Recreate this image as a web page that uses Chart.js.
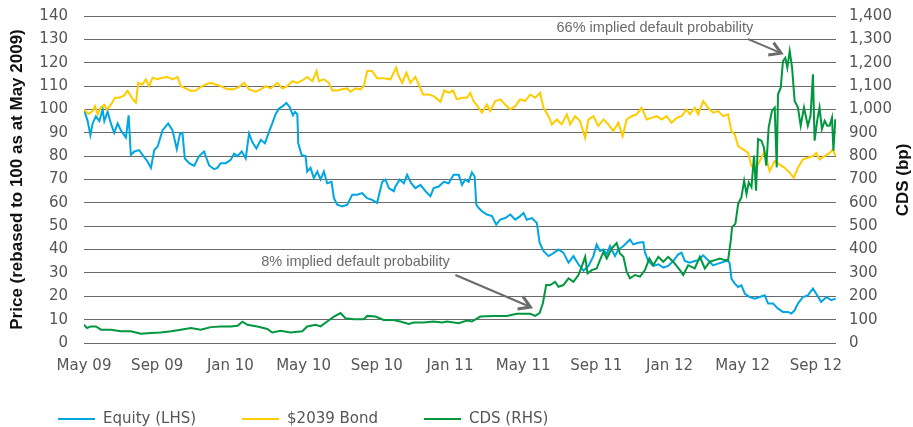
<!DOCTYPE html>
<html>
<head>
<meta charset="utf-8">
<script src="https://cdn.jsdelivr.net/npm/chart.js@4.4.1/dist/chart.umd.min.js"></script>
<style>
  html, body { margin: 0; padding: 0; background: #fff; }
  #wrap { width: 913px; height: 427px; }
</style>
</head>
<body>
<div id="wrap"><canvas id="chart" width="913" height="427"></canvas></div>
<script>
// x values are months since May 2009
const xTickLabels = ['May 09', 'Sep 09', 'Jan 10', 'May 10', 'Sep 10', 'Jan 11',
                     'May 11', 'Sep 11', 'Jan 12', 'May 12', 'Sep 12'];

const equityMonths = [0, 0.2, 0.35, 0.47, 0.65, 0.84, 1.02, 1.11, 1.29, 1.47, 1.65, 1.84, 2.02, 2.29, 2.44, 2.56,
  2.75, 3.02, 3.2, 3.47, 3.66, 3.84, 4.02, 4.29, 4.6, 4.84, 5.07, 5.25, 5.38, 5.51, 5.75, 6.02, 6.29, 6.56,
  6.84, 7.11, 7.29, 7.47, 7.75, 8.02, 8.2, 8.39, 8.62, 8.84, 9.02, 9.2, 9.42, 9.66, 9.89, 10.11, 10.29, 10.47,
  10.66, 10.84, 11.06, 11.24, 11.42, 11.53, 11.66, 11.71, 11.89, 12.11, 12.2, 12.38, 12.56, 12.75, 12.93, 13.11,
  13.29, 13.53, 13.66, 13.84, 14.11, 14.39, 14.66, 14.93, 15.2, 15.47, 15.75, 16.02, 16.3, 16.48, 16.66, 16.93,
  17.02, 17.26, 17.48, 17.66, 17.88, 18.11, 18.39, 18.66, 18.93, 19.11, 19.39, 19.66, 19.93, 20.2, 20.48, 20.66,
  20.84, 21.02, 21.2, 21.35, 21.44, 21.57, 21.75, 22.02, 22.3, 22.53, 22.75, 23.02, 23.3, 23.57, 23.84, 24.02,
  24.2, 24.48, 24.75, 24.9, 25.11, 25.39, 25.57, 25.93, 26.2, 26.48, 26.75, 27.02, 27.3, 27.57, 27.84, 28.02,
  28.2, 28.39, 28.57, 28.75, 29.02, 29.2, 29.48, 29.66, 29.84, 30.02, 30.29, 30.57, 30.66, 30.84, 31.11, 31.39,
  31.66, 31.93, 32.2, 32.48, 32.66, 32.84, 33.11, 33.38, 33.57, 33.84, 34.11, 34.38, 34.66, 34.93, 35.2, 35.29,
  35.39, 35.57, 35.75, 35.93, 36.12, 36.39, 36.66, 36.93, 37.2, 37.39, 37.66, 37.93, 38.2, 38.48, 38.66, 38.84,
  39.02, 39.29, 39.56, 39.84, 40.02, 40.29, 40.57, 40.84, 41.08];
const equityValues = [100, 95, 89, 94, 97, 95, 100, 95, 99, 94, 90, 94, 91, 88, 97.5, 80.5,
  82, 82.6, 80.5, 77.7, 75, 82.6, 84, 91, 94, 91, 83, 89.7, 90, 79, 77, 75.8, 80, 82,
  76, 74.4, 75, 77, 77, 78.4, 81, 80, 82, 79, 89.7, 86, 83.3, 87, 85.5, 90.4, 94, 98,
  100.4, 101.3, 102.8, 101, 97.5, 99, 98, 85.5, 80.5, 80, 73.4, 75, 70.6, 73.4, 70, 73.4,
  68.4, 69, 62, 59.2, 58.5, 59.2, 63.5, 63.5, 64.2, 62, 61.3, 60, 69, 70, 66.3, 65,
  67, 70, 68.4, 72, 68.4, 66.3, 67.7, 65, 62.8, 66.3, 67, 69, 68.4, 72, 72, 67.7,
  70, 69, 73, 71.3, 59.2, 57.8, 56.4, 55, 54.3, 50.7, 52.8, 53.5, 55, 52.8, 54.3, 55.7,
  52.8, 53.5, 51.4, 42.9, 39.4, 37.2, 38, 40, 38.7, 34.4, 37.2, 33.7, 30.9, 33, 37.2, 42.2,
  39.4, 40, 38, 41.5, 37.2, 40, 41.5, 42.9, 44.3, 42.2, 42.9, 43.2, 38.7, 35.1, 33, 33.7,
  32.3, 33, 35.1, 38, 38.7, 35.1, 34.4, 35.1, 35.4, 37.5, 35.4, 33.2, 34, 34.7, 35.4, 34,
  27.5, 25.4, 24, 24.7, 21.1, 19.7, 19, 19.7, 20.4, 16.9, 16.9, 14.7, 13.3, 13.3, 12.6, 14,
  16.9, 19.7, 20.4, 23.3, 21.1, 17.6, 19.7, 18.3, 19];

const bondMonths = [0, 0.24, 0.47, 0.6, 0.75, 0.93, 1.11, 1.25, 1.47, 1.69, 1.93, 2.2, 2.38, 2.56, 2.74, 2.84,
  2.96, 3.2, 3.38, 3.56, 3.75, 4.02, 4.29, 4.57, 4.84, 5.11, 5.29, 5.56, 5.84, 6.11, 6.38, 6.66, 6.93, 7.2,
  7.47, 7.84, 8.2, 8.47, 8.75, 9.02, 9.38, 9.66, 9.93, 10.2, 10.57, 10.84, 11.11, 11.39, 11.66, 11.93, 12.2,
  12.48, 12.71, 12.84, 13.11, 13.38, 13.57, 13.84, 14.11, 14.39, 14.57, 14.84, 15.11, 15.29, 15.48, 15.75,
  16.02, 16.38, 16.75, 17.06, 17.2, 17.39, 17.62, 17.84, 18.11, 18.29, 18.53, 18.84, 19.11, 19.48, 19.69,
  19.93, 20.17, 20.38, 20.66, 20.93, 21.11, 21.29, 21.57, 21.75, 22.02, 22.2, 22.48, 22.75, 23.02, 23.3,
  23.57, 23.84, 24.11, 24.39, 24.66, 24.93, 25.11, 25.39, 25.57, 25.84, 26.11, 26.39, 26.57, 26.84, 27.11,
  27.39, 27.57, 27.84, 28.11, 28.39, 28.66, 28.93, 29.2, 29.44, 29.66, 29.93, 30.2, 30.48, 30.75, 31.02,
  31.3, 31.57, 31.84, 32.11, 32.39, 32.66, 32.93, 33.11, 33.38, 33.57, 33.84, 34.11, 34.38, 34.66, 34.93,
  35.2, 35.39, 35.57, 35.75, 36.02, 36.3, 36.48, 36.75, 37.02, 37.2, 37.47, 37.75, 38.02, 38.29, 38.57,
  38.79, 39.02, 39.29, 39.56, 39.84, 40.02, 40.2, 40.48, 40.75, 40.93, 41.08];
const bondValues = [100, 98.1, 99.3, 101.4, 97.9, 101, 101.9, 100, 102, 105, 105, 106, 108, 105.7, 103.6, 102.9,
  111.4, 110.7, 112.9, 110, 113.6, 112.9, 113.6, 113.9, 112.9, 113.9, 110, 109, 107.9, 108.1, 109.6, 110.7, 111.4, 110.7,
  110, 108.6, 108.6, 109.6, 111.4, 108.6, 107.6, 108.6, 110, 109, 111.4, 109, 110, 112.1, 111.4, 112.4, 113.9,
  112.1, 116.4, 112.1, 112.9, 111.4, 108.1, 108.1, 108.6, 109, 107.6, 109, 108.6, 110, 116.4, 116.4,
  113.3, 113.3, 112.9, 117.9, 114.3, 111.4, 115.7, 111.4, 113.9, 110.7, 106.4, 106.4, 105.7, 103.3, 108.1,
  107.1, 108.1, 104.3, 105, 105, 107.1, 103.6, 100.7, 98.6, 102.1, 99.3, 103.6, 104.3, 102.1, 100,
  101.4, 104.3, 103.6, 106.4, 105, 107.1, 100.7, 97.1, 93.6, 95.7, 93.6, 97.9, 93.6, 97.1, 95,
  87.9, 95.7, 97.1, 92.9, 95.7, 93.6, 90.7, 94.3, 88.6, 95.7, 97.1, 97.9, 100.7, 95.7, 96.4,
  97.1, 95.7, 97.1, 94.3, 96.4, 97.1, 100, 97.9, 100.7, 97.9, 103.6, 100.7, 98.6, 99.3, 97.1,
  97.9, 90.7, 89.3, 84.3, 82.9, 81.4, 75.7, 75, 79.3, 82.1, 73.6, 77.9, 76.4, 75, 72.9,
  70.7, 75, 78.6, 79.3, 80, 81.4, 78.6, 80, 81.4, 82.9, 80];

// CDS in basis points (right-hand axis)
const cdsMonths = [0, 0.16, 0.38, 0.65, 0.93, 1.47, 2.02, 2.56, 3.11, 3.66, 4.2, 4.75, 5.29, 5.84, 6.38, 6.93,
  7.47, 8.02, 8.39, 8.66, 8.93, 9.47, 10.02, 10.29, 10.75, 11.29, 11.93, 12.2, 12.66, 12.93, 13.29, 13.66,
  14.02, 14.29, 14.75, 15.29, 15.48, 15.93, 16.38, 16.84, 17.29, 17.75, 18.02, 18.57, 19.11, 19.57, 19.84,
  20.48, 20.93, 21.2, 21.66, 22.39, 23.11, 23.66, 24.39, 24.66, 24.9, 25.08, 25.26, 25.48, 25.75, 25.93,
  26.2, 26.48, 26.75, 27.02, 27.2, 27.39, 27.52, 27.75, 28.02, 28.2, 28.39, 28.57, 28.84, 29.11, 29.29,
  29.48, 29.66, 29.84, 30.11, 30.39, 30.66, 30.9, 31.11, 31.39, 31.66, 31.93, 32.2, 32.57, 32.75, 33.02,
  33.38, 33.66, 33.93, 34.2, 34.48, 34.75, 35.02, 35.2, 35.35, 35.42, 35.6, 35.75, 35.93, 36.08, 36.21,
  36.33, 36.48, 36.62, 36.73, 36.84, 37.02, 37.16, 37.29, 37.42, 37.6, 37.75, 37.86, 37.93, 38.08, 38.2,
  38.33, 38.44, 38.57, 38.7, 38.84, 39.02, 39.17, 39.35, 39.56, 39.71, 39.84, 39.93, 40.07, 40.2, 40.33,
  40.48, 40.62, 40.75, 40.88, 40.96, 41.06];
const cdsValues = [78, 64, 71, 71, 57, 57, 50, 50, 40, 43, 45, 50, 57, 64, 57, 68,
  71, 71, 74, 91, 78, 71, 60, 45, 52, 45, 50, 71, 78, 71, 92, 113,
  128, 106, 102, 102, 116, 113, 99, 99, 92, 82, 88, 88, 92, 88, 92,
  85, 96, 92, 113, 116, 116, 125, 125, 116, 128, 170, 248, 248, 262, 241,
  248, 277, 262, 291, 326, 369, 298, 312, 319, 355, 390, 362, 404, 428, 383,
  369, 305, 277, 291, 284, 312, 362, 333, 369, 348, 369, 348, 312, 291, 333,
  319, 369, 319, 348, 355, 362, 355, 354, 439, 496, 510, 595, 624, 695, 638,
  688, 667, 802, 652, 873, 866, 837, 759, 923, 994, 1008, 752, 1065, 1093, 1207,
  1221, 1179, 1250, 1179, 1036, 1008, 930, 1008, 930, 973, 1150, 866, 951, 1008, 916,
  951, 930, 930, 965, 823, 958];

function toPoints(months, values) {
    return months.map((m, i) => ({ x: m, y: values[i] }));
}

const TICK_FONT = { family: '"DejaVu Sans", sans-serif', size: 15 };
const TICK_COLOR = '#555';

// keep a fixed axis width and drop the label overhang padding
function fixWidth(w) {
    return s => {
        s.width = w;
        s.paddingTop = 0;
        s.paddingBottom = 0;
    };
}

/**
 * Text callouts with arrows, placed in data units (months, LHS value)
 */
const callouts = [
    { text: '66% implied default probability', at: [31.2, 134.8], from: [36.3, 130.1], to: [38.1, 124.1] },
    { text: '8% implied default probability', at: [14.84, 34.7], from: [20.3, 29.1], to: [24.4, 15.4] }
];

const calloutPlugin = {
    id: 'callouts',
    afterDatasetsDraw(chart) {
        const ctx = chart.ctx;
        const xs = chart.scales.x;
        const ys = chart.scales.y;
        ctx.save();
        ctx.font = '14.5px "Liberation Sans", Arial, sans-serif';
        ctx.fillStyle = '#6b6b6b';
        ctx.strokeStyle = '#6b6b6b';
        ctx.textAlign = 'center';
        ctx.textBaseline = 'middle';
        callouts.forEach(c => {
            ctx.fillText(c.text, xs.getPixelForValue(c.at[0]), ys.getPixelForValue(c.at[1]));
            const x1 = xs.getPixelForValue(c.from[0]), y1 = ys.getPixelForValue(c.from[1]);
            const x2 = xs.getPixelForValue(c.to[0]), y2 = ys.getPixelForValue(c.to[1]);
            ctx.lineWidth = 2;
            ctx.beginPath();
            ctx.moveTo(x1, y1);
            ctx.lineTo(x2, y2);
            ctx.stroke();
            const a = Math.atan2(y2 - y1, x2 - x1);
            ctx.lineWidth = 3;
            ctx.beginPath();
            ctx.moveTo(x2 - 13 * Math.cos(a - 0.55), y2 - 13 * Math.sin(a - 0.55));
            ctx.lineTo(x2, y2);
            ctx.lineTo(x2 - 13 * Math.cos(a + 0.55), y2 - 13 * Math.sin(a + 0.55));
            ctx.stroke();
        });
        ctx.restore();
    }
};

const extrasPlugin = {
    id: 'extras',
    afterDraw(chart) {
        const ctx = chart.ctx;
        ctx.save();
        // right axis title, reading bottom to top
        ctx.translate(903, 180);
        ctx.rotate(-Math.PI / 2);
        ctx.font = 'bold 17px "Liberation Sans", Arial, sans-serif';
        ctx.fillStyle = '#111';
        ctx.textAlign = 'center';
        ctx.textBaseline = 'middle';
        ctx.fillText('CDS (bp)', 0, 0);
        ctx.restore();

        // legend along the bottom
        ctx.save();
        ctx.font = '15px "DejaVu Sans", sans-serif';
        ctx.textBaseline = 'middle';
        let x = 58;
        const y = 419;
        chart.data.datasets.forEach(ds => {
            ctx.strokeStyle = ds.borderColor;
            ctx.lineWidth = 2;
            ctx.beginPath();
            ctx.moveTo(x, y);
            ctx.lineTo(x + 37, y);
            ctx.stroke();
            ctx.fillStyle = '#555';
            ctx.fillText(ds.label, x + 45, y);
            x += 45 + ctx.measureText(ds.label).width + 46;
        });
        ctx.restore();
    }
};

new Chart(document.getElementById('chart'), {
    type: 'line',
    data: {
        datasets: [
            {
                label: 'Equity (LHS)',
                data: toPoints(equityMonths, equityValues),
                borderColor: '#00A6E2',
                yAxisID: 'y',
                order: 2
            },
            {
                label: '$2039 Bond',
                data: toPoints(bondMonths, bondValues),
                borderColor: '#FFCC00',
                yAxisID: 'y',
                order: 1
            },
            {
                label: 'CDS (RHS)',
                data: toPoints(cdsMonths, cdsValues),
                borderColor: '#00973F',
                yAxisID: 'y1',
                order: 0
            }
        ]
    },
    options: {
        responsive: false,
        animation: false,
        devicePixelRatio: 1,
        layout: { padding: { top: 16, left: 0, right: 0, bottom: 0 } },
        elements: {
            point: { radius: 0 },
            line: { borderWidth: 2, tension: 0 }
        },
        plugins: {
            legend: { display: false },
            tooltip: { enabled: false }
        },
        scales: {
            x: {
                type: 'linear',
                min: 0,
                max: 41.1,
                afterFit: s => { s.height = 84; },
                grid: { display: false, drawTicks: false },
                border: { display: false },
                ticks: {
                    stepSize: 4,
                    includeBounds: false,
                    autoSkip: false,
                    maxRotation: 0,
                    padding: 14,
                    color: TICK_COLOR,
                    font: TICK_FONT,
                    callback: v => (v % 4 === 0 ? xTickLabels[v / 4] : '')
                }
            },
            y: {
                position: 'left',
                min: 0,
                max: 140,
                afterFit: fixWidth(84),
                grid: { color: '#6a6a6a', lineWidth: 1, drawTicks: false },
                border: { display: false },
                ticks: {
                    stepSize: 10,
                    padding: 16,
                    color: TICK_COLOR,
                    font: TICK_FONT
                },
                title: {
                    display: true,
                    text: 'Price (rebased to 100 as at May 2009)',
                    color: '#111',
                    font: { family: '"Liberation Sans", Arial, sans-serif', size: 17, weight: 'bold' },
                    padding: { top: 7, bottom: 0 }
                }
            },
            y1: {
                position: 'right',
                min: 0,
                max: 1400,
                afterFit: fixWidth(77),
                grid: { drawOnChartArea: false, drawTicks: false },
                border: { display: false },
                ticks: {
                    stepSize: 100,
                    padding: 13,
                    color: TICK_COLOR,
                    font: TICK_FONT,
                    callback: v => v.toLocaleString('en-US')
                }
            }
        }
    },
    plugins: [calloutPlugin, extrasPlugin]
});
</script>
</body>
</html>
